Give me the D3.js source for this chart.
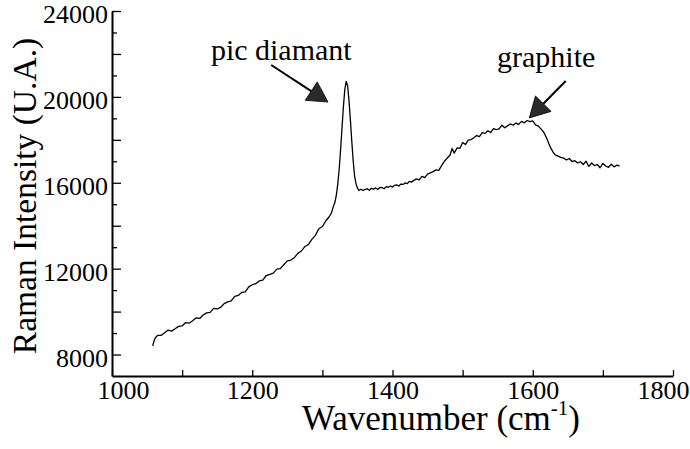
<!DOCTYPE html>
<html><head><meta charset="utf-8">
<script src="https://cdn.jsdelivr.net/npm/d3@7"></script>
</head><body style="margin:0">
<svg id="c" width="690" height="449"></svg>
<script>
const wavenumbers = [1058,1060,1062,1065,1070,1075,1080,1085,1090,1095,1100,1105,1110,1115,1120,1125,1130,1135,1140,1145,1150,1155,1160,1165,1170,1175,1180,1185,1190,1195,1200,1205,1210,1215,1220,1225,1230,1235,1240,1245,1250,1255,1260,1265,1270,1275,1280,1285,1290,1295,1300,1305,1310,1313,1315,1318,1320,1322,1324,1326,1328,1330,1332,1334,1336,1338,1340,1342,1344,1346,1348,1350,1352,1355,1358,1361,1364,1367,1370,1373,1376,1379,1382,1385,1388,1391,1394,1397,1400,1403,1406,1409,1412,1415,1418,1421,1424,1427,1430,1434,1438,1442,1446,1450,1454,1458,1462,1466,1470,1474,1478,1482,1485,1488,1492,1496,1500,1504,1508,1512,1516,1520,1524,1528,1532,1536,1540,1544,1548,1552,1556,1560,1564,1568,1572,1576,1580,1584,1588,1592,1596,1600,1604,1608,1612,1616,1620,1623,1626,1629,1632,1636,1640,1644,1648,1652,1656,1660,1664,1668,1672,1676,1680,1684,1688,1692,1696,1700,1704,1708,1712,1716,1720,1724];
const intensities = [8400,8640,8790,
  8890,8890,9010,9140,9090,9200,9310,9330,9490,9460,
  9570,9710,9680,9840,9940,9960,10150,10130,10200,10370,
  10450,10500,10710,10750,10890,10920,11150,11250,11300,11430,
  11470,11680,11730,11790,11980,12000,12180,12360,12400,12510,
  12710,12820,13030,13120,13360,13550,13860,13960,14230,14430,
  14600,14830,15100,15450,
  15950,16650,17550,18550,19550,20350,20720,20520,19800,18900,17900,17000,16300,15950,15760,15640,
  15700,15640,15690,15720,15650,15740,15700,15760,15690,15780,15770,15720,15820,15790,15850,15800,15880,15900,15850,15940,15920,15990,15960,16060,16030,16100,
  16180,16130,16300,16240,16400,16460,16520,16600,16580,16800,17000,17150,17280,
  17600,17380,
  17620,17600,17880,17780,17990,18010,18100,18200,18150,18330,18300,18420,18340,18520,18480,18510,18680,18560,18650,18740,18680,18780,18720,18860,18790,18900,18850,18880,18700,18640,18500,18340,18060,
  17820,17600,17430,17300,
  17240,17180,17150,17060,17130,16990,17030,16920,16980,16850,17000,16760,16920,16800,16850,16700,16900,16780,16720,16860,16740,16820,16780];

const xTicks = [1000,1100,1200,1300,1400,1500,1600,1700,1800];
const xTickLabels = ["1000","","1200","","1400","","1600","","1800"];
const yMajorTicks = [8000,10000,12000,14000,16000,18000,20000,22000,24000];
const yMajorLabels = ["8000","","12000","","16000","","20000","","24000"];
const yMinorTicks = [9000,11000,13000,15000,17000,19000,21000,23000];
const xTitle = "Wavenumber (cm";
const xTitleSup = "-1";
const yTitle = "Raman Intensity (U.A.)";
const annotationLabels = ["pic diamant", "graphite"];
const annotationTextAt = [[1141, 21720], [1549, 21390]];
const annotationTail = [[1227, 21485], [1647, 20740]];
const annotationTip = [[1308, 19760], [1595, 19020]];

const svg = d3.select("#c");
const font = "Liberation Serif";
svg.attr("font-family", font);

const x = d3.scaleLinear().domain([1000,1800]).range([112,673]);
const y = d3.scaleLinear().domain([7000,24000]).range([376,11]);

// X axis
const gx = svg.append("g").attr("transform",`translate(0,${y(7000)})`)
  .call(d3.axisBottom(x).tickValues(xTicks).tickFormat((d,i)=>xTickLabels[i])
    .tickSizeInner(-6).tickSizeOuter(0).tickPadding(5));
gx.attr("font-family",font).attr("font-size",26);
gx.select(".domain").attr("stroke","#000").attr("stroke-width",2);
gx.selectAll(".tick line").attr("stroke","#000").attr("stroke-width",1.3);
gx.selectAll("text").attr("font-family",font).attr("font-size",26).attr("fill","#000")
  .attr("dx",d=>d===1000?11:(d===1800?-10:0));

// Y axis
const gy = svg.append("g").attr("transform",`translate(${x(1000)},0)`)
  .call(d3.axisLeft(y).tickValues(yMajorTicks).tickFormat((d,i)=>yMajorLabels[i])
    .tickSizeInner(-9).tickSizeOuter(0).tickPadding(4));
gy.attr("font-family",font).attr("font-size",26);
gy.select(".domain").attr("stroke","#000").attr("stroke-width",2);
gy.selectAll(".tick line").attr("stroke","#000").attr("stroke-width",1.3);
gy.selectAll("text").attr("font-family",font).attr("font-size",26).attr("fill","#000").attr("dy","0.45em");

const gy2 = svg.append("g").attr("transform",`translate(${x(1000)},0)`)
  .call(d3.axisLeft(y).tickValues(yMinorTicks).tickFormat("")
    .tickSizeInner(-5).tickSizeOuter(0));
gy2.select(".domain").remove();
gy2.selectAll(".tick line").attr("stroke","#000").attr("stroke-width",1.3);

// Titles
const xt = svg.append("text").attr("x",441).attr("y",430).attr("text-anchor","middle")
  .attr("font-family",font).attr("font-size",35).attr("fill","#000");
xt.append("tspan").text(xTitle);
xt.append("tspan").attr("font-size",21).attr("dy",-15).text(xTitleSup);
xt.append("tspan").attr("dy",15).text(")");

svg.append("text").attr("transform","translate(36,196) rotate(-90)").attr("text-anchor","middle")
  .attr("font-family",font).attr("font-size",33.5).attr("fill","#000").text(yTitle);

// Spectrum
const pts = wavenumbers.map((w,i)=>[w,intensities[i]]);
svg.append("path").datum(pts)
  .attr("d", d3.line().x(d=>x(d[0])).y(d=>y(d[1])))
  .attr("fill","none").attr("stroke","#000").attr("stroke-width",1.3).attr("stroke-linejoin","round");

// Annotations
annotationLabels.forEach((lab,i)=>{
  svg.append("text").attr("x",x(annotationTextAt[i][0])).attr("y",y(annotationTextAt[i][1]))
    .attr("font-family",font).attr("font-size",30).attr("fill","#000").text(lab);
  const tx=x(annotationTail[i][0]), ty=y(annotationTail[i][1]);
  const px=x(annotationTip[i][0]), py=y(annotationTip[i][1]);
  const L=Math.hypot(px-tx,py-ty), ux=(px-tx)/L, uy=(py-ty)/L;
  const hl=20, hw=11;
  const bx=px-ux*hl, by=py-uy*hl;
  svg.append("line").attr("x1",tx).attr("y1",ty).attr("x2",bx).attr("y2",by)
    .attr("stroke","#000").attr("stroke-width",2);
  svg.append("polygon").attr("points",[[px,py],[bx-uy*hw,by+ux*hw],[bx+uy*hw,by-ux*hw]].map(p=>p.join(",")).join(" "))
    .attr("fill","#2a2a2a").attr("stroke","#000").attr("stroke-width",0.8);
});
</script></body></html>
